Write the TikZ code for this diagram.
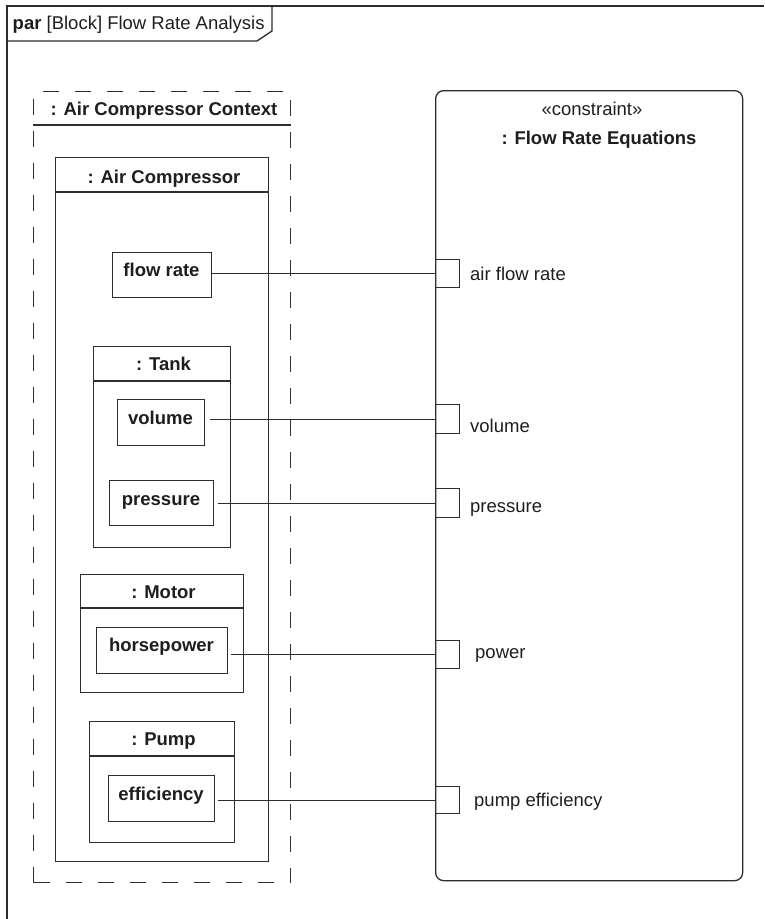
\documentclass[tikz,border=0pt]{standalone}
\usepackage{fontspec}
\setmainfont{Liberation Sans}
\definecolor{ink}{RGB}{45,45,45}
\definecolor{txt}{RGB}{30,30,30}
\begin{document}
\begin{tikzpicture}[x=1pt,y=-1pt,
  every node/.style={font=\fontsize{18.5}{22}\selectfont, text=txt},
  edge/.style={draw=ink, line width=1.3pt},
  box/.style={draw=ink, line width=1.3pt, rectangle, inner sep=0pt, anchor=north west},
  port/.style={box, minimum width=24pt},
  bold/.style={font=\fontsize{18.5}{22}\selectfont\bfseries},
  lbl/.style={anchor=base, inner sep=0pt},
  plbl/.style={anchor=base west, inner sep=0pt}]
\useasboundingbox (0,0) rectangle (764,919);

% diagram frame and its name tab
\draw[edge] (7,919) -- (7,6) -- (764,6);
\draw[edge] (7,41) -- (257,41) -- (272,31) -- (272,6);
\node[plbl] (title) at (12.5,29.5) {\textbf{par} [Block] Flow Rate Analysis};

% context block (dashed)
\node[box, dash pattern=on 16pt off 16pt, minimum width=257pt, minimum height=791pt] (ctx) at (33,91) {};
\draw[edge] ([yshift=-34pt]ctx.north west) -- ([yshift=-34pt]ctx.north east);
\node[lbl,bold] (ctxh) at (164,115) {: Air Compressor Context};

% air compressor part
\node[box, minimum width=213pt, minimum height=704pt] (ac) at (55,157) {};
\draw[edge] ([yshift=-35pt]ac.north west) -- ([yshift=-35pt]ac.north east);
\node[lbl,bold] (ach) at (164,183.7) {: Air Compressor};

\node[box, minimum width=99pt, minimum height=45pt] (fr) at (112,252) {};
\node[lbl,bold] (frt) at (161.5,276.7) {flow rate};

% tank
\node[box, minimum width=137pt, minimum height=201pt] (tank) at (93,346) {};
\draw[edge] ([yshift=-35pt]tank.north west) -- ([yshift=-35pt]tank.north east);
\node[lbl,bold] (tankh) at (163.5,370.7) {: Tank};
\node[box, minimum width=87pt, minimum height=46pt] (vol) at (117,399) {};
\node[lbl,bold] (volt) at (160.5,424) {volume};
\node[box, minimum width=104pt, minimum height=45pt] (pres) at (109,480) {};
\node[lbl,bold] (prest) at (161,505) {pressure};

% motor
\node[box, minimum width=163pt, minimum height=118pt] (motor) at (80,574) {};
\draw[edge] ([yshift=-34pt]motor.north west) -- ([yshift=-34pt]motor.north east);
\node[lbl,bold] (motorh) at (163.5,598.3) {: Motor};
\node[box, minimum width=131pt, minimum height=46pt] (hp) at (96,627) {};
\node[lbl,bold] (hpt) at (161.5,651.7) {horsepower};

% pump
\node[box, minimum width=145pt, minimum height=121pt] (pump) at (89,721) {};
\draw[edge] ([yshift=-35pt]pump.north west) -- ([yshift=-35pt]pump.north east);
\node[lbl,bold] (pumph) at (163.5,745.3) {: Pump};
\node[box, minimum width=106pt, minimum height=46pt] (eff) at (108,775) {};
\node[lbl,bold] (efft) at (161,800) {efficiency};

% constraint block
\node[box, rounded corners=8pt, minimum width=307pt, minimum height=790pt] (eq) at (435,90) {};
\node[lbl] (stereo) at (592,115) {«constraint»};
\node[lbl,bold] (eqh) at (599,144) {: Flow Rate Equations};

% constraint parameters
\node[port, minimum height=28pt] (p1) at (435,259) {};
\node[port, minimum height=29pt] (p2) at (435,404) {};
\node[port, minimum height=29pt] (p3) at (435,488) {};
\node[port, minimum height=28pt] (p4) at (435,640) {};
\node[port, minimum height=27pt] (p5) at (435,786) {};
\node[plbl] (p1t) at (470,280) {air flow rate};
\node[plbl] (p2t) at (470,432) {volume};
\node[plbl] (p3t) at (470,512) {pressure};
\node[plbl] (p4t) at (475,658) {power};
\node[plbl] (p5t) at (474,806) {pump efficiency};

% binding connectors
\draw[edge] (fr.east |- p1) -- (p1);
\draw[edge, shorten <=5pt] (vol.east |- p2) -- (p2);
\draw[edge, shorten <=4pt] (pres.east |- p3) -- (p3);
\draw[edge, shorten <=3pt] (hp.east |- p4) -- (p4);
\draw[edge, shorten <=3pt] (eff.east |- p5) -- (p5);
\end{tikzpicture}
\end{document}
